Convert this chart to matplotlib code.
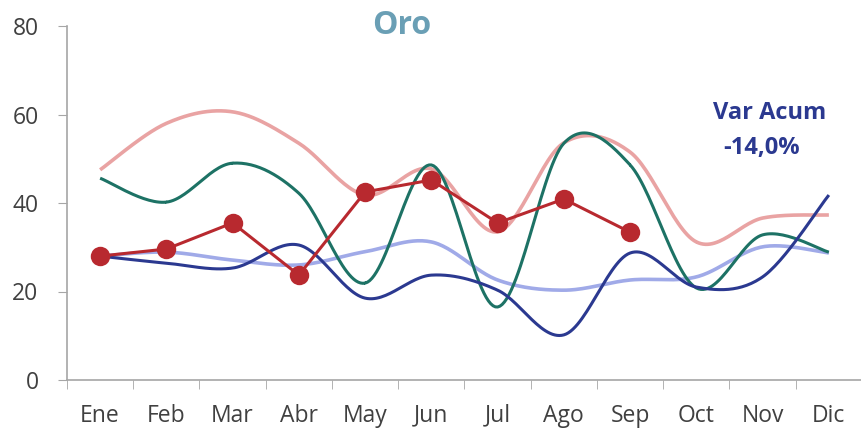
"""Oro: monthly series, Excel-style smoothed lines."""
import numpy as np
import matplotlib
matplotlib.use("Agg")
import matplotlib.pyplot as plt

months = ["Ene", "Feb", "Mar", "Abr", "May", "Jun", "Jul", "Ago", "Sep", "Oct", "Nov", "Dic"]

pink = [47.5, 58.0, 60.6, 53.5, 41.8, 47.7, 33.5, 53.6, 51.5, 31.2, 36.6, 37.3]
teal = [45.6, 40.2, 49.0, 42.2, 21.9, 48.6, 16.5, 53.5, 48.6, 20.8, 32.8, 28.9]
lavender = [28.0, 28.9, 27.1, 26.0, 29.0, 31.2, 22.6, 20.3, 22.6, 23.3, 30.1, 28.7]
navy = [28.0, 26.4, 25.3, 30.5, 18.5, 23.7, 20.3, 10.2, 28.7, 21.0, 23.3, 41.8]
current = [28.0, 29.6, 35.5, 23.7, 42.5, 45.2, 35.5, 40.9, 33.4]


def smooth(y, n=30):
    """Catmull-Rom curve through the points, like Excel's smoothed line."""
    y = np.asarray(y, dtype=float)
    x = np.arange(len(y), dtype=float)
    px = np.concatenate([[x[0]], x, [x[-1]]])
    py = np.concatenate([[y[0]], y, [y[-1]]])
    xs, ys = [], []
    t = np.linspace(0, 1, n)
    for i in range(1, len(px) - 2):
        p0, p1, p2, p3 = py[i - 1], py[i], py[i + 1], py[i + 2]
        q0, q1, q2, q3 = px[i - 1], px[i], px[i + 1], px[i + 2]
        ys.append(0.5 * ((2 * p1) + (-p0 + p2) * t + (2 * p0 - 5 * p1 + 4 * p2 - p3) * t ** 2
                         + (-p0 + 3 * p1 - 3 * p2 + p3) * t ** 3))
        xs.append(0.5 * ((2 * q1) + (-q0 + q2) * t + (2 * q0 - 5 * q1 + 4 * q2 - q3) * t ** 2
                         + (-q0 + 3 * q1 - 3 * q2 + q3) * t ** 3))
    return np.concatenate(xs), np.concatenate(ys)


plt.rcParams["font.family"] = ["Open Sans", "DejaVu Sans"]

fig = plt.figure(figsize=(8.62, 4.32), dpi=100)
ax = fig.add_axes([67 / 862, 52 / 432, 795 / 862, 354 / 432])

ax.plot(*smooth(pink), color="#E9A3A3", lw=2.6, solid_capstyle="butt")
ax.plot(*smooth(lavender), color="#A0AAE8", lw=2.6, solid_capstyle="butt")
ax.plot(*smooth(teal), color="#1D7265", lw=2.2, solid_capstyle="butt")
ax.plot(*smooth(navy), color="#2B3990", lw=2.2, solid_capstyle="butt")
ax.plot(range(len(current)), current, color="#B8292F", lw=2.2,
        marker="o", markersize=14, markeredgewidth=0)

ax.set_xlim(-0.5, len(months) - 0.5)
ax.set_ylim(0, 80)
ax.set_yticks([0, 20, 40, 60, 80])
ax.set_xticks(np.arange(len(months)))
ax.set_xticklabels(months)
ax.set_xticks(np.arange(len(months) + 1) - 0.5, minor=True)
ax.tick_params(axis="x", which="major", length=0, pad=17, labelsize=16.5, labelcolor="#404040")
ax.tick_params(axis="x", which="minor", length=6.5, color="#A6A6A6", direction="out")
ax.tick_params(axis="y", length=6.5, color="#A6A6A6", labelsize=16.5, labelcolor="#404040", pad=14)

for side in ("top", "right"):
    ax.spines[side].set_visible(False)
for side in ("left", "bottom"):
    ax.spines[side].set_color("#A6A6A6")
    ax.spines[side].set_linewidth(1.2)
ax.spines["bottom"].set_bounds(-0.5, len(months) - 0.5)

fig.text(402 / 862, 1 - 25 / 432, "Oro", ha="center", va="center",
         fontsize=23, fontweight="bold", color="#6A9FB5")
fig.text(770 / 862, 1 - 113 / 432, "Var Acum", ha="center", va="center",
         fontsize=17, fontweight="bold", color="#2B3990")
fig.text(762 / 862, 1 - 148 / 432, "-14,0%", ha="center", va="center",
         fontsize=17, fontweight="bold", color="#2B3990")

fig.savefig("out.png", dpi=100)
